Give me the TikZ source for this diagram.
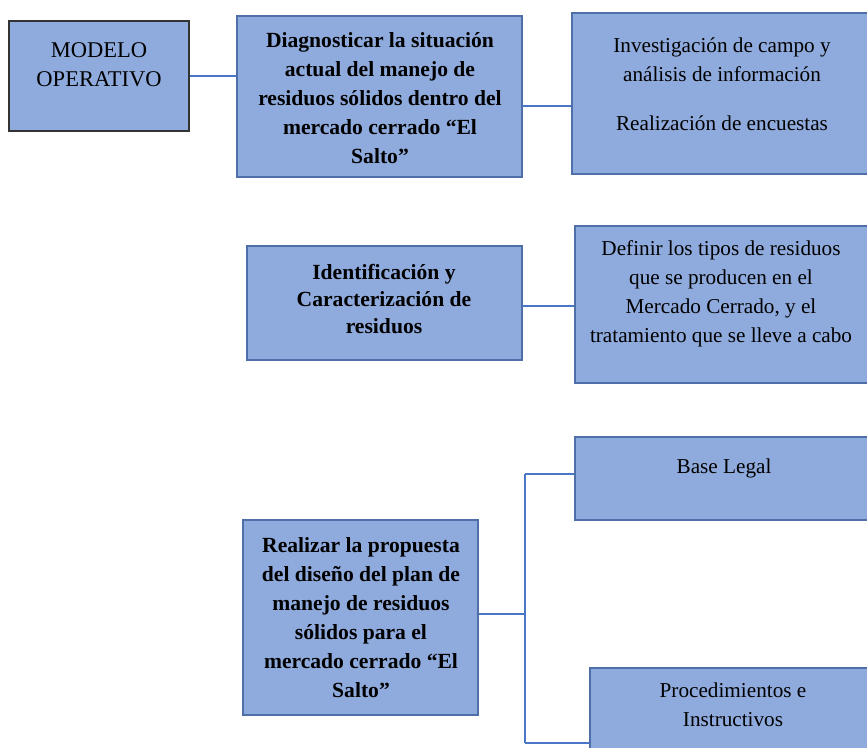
\documentclass[tikz,border=0pt]{standalone}
\usepackage{fontspec}
\setmainfont{Liberation Serif}
\definecolor{boxfill}{HTML}{8FAADC}
\definecolor{boxline}{HTML}{4F6FA8}
\definecolor{conn}{HTML}{4A76C8}
\tikzset{
  box/.style={draw=boxline, line width=1.3pt, fill=boxfill, inner sep=0pt},
  darkbox/.style={draw=black!80, line width=1.6pt, fill=boxfill, inner sep=0pt},
  txt/.style={align=center, inner sep=0pt, font=\fontsize{21.2}{29}\selectfont},
  btxt/.style={txt, font=\fontsize{21.6}{29}\selectfont\bfseries},
  link/.style={draw=conn, line width=1.3pt}
}
\begin{document}
\begin{tikzpicture}[x=1pt, y=-1pt]
\clip (0,0) rectangle (867,747);
\fill[white] (0,0) rectangle (867,747);
% boxes
\node[darkbox, minimum width=180pt, minimum height=110pt] (b1) at (99,76) {};
\node[box, minimum width=285pt, minimum height=161pt] (b2) at (379.5,96.5) {};
\node[box, minimum width=308pt, minimum height=161pt] (b3) at (726,93.5) {};
\node[box, minimum width=275pt, minimum height=114pt] (b4) at (384.5,303) {};
\node[box, minimum width=305pt, minimum height=157pt] (b5) at (727.5,304.5) {};
\node[box, minimum width=305pt, minimum height=83pt] (b6) at (727.5,478.5) {};
\node[box, minimum width=235pt, minimum height=195pt] (b7) at (360.5,617.5) {};
\node[box, minimum width=290pt, minimum height=92pt] (b8) at (735,714) {};
% texts
\node[txt, font=\fontsize{22.5}{29}\selectfont] (t1) at (99,65) {MODELO\\OPERATIVO};
\node[btxt] (t2) at (380,98) {Diagnosticar la situación\\actual del manejo de\\residuos sólidos dentro del\\mercado cerrado “El\\Salto”};
\node[txt] (t3) at (722,84) {Investigación de campo y\\análisis de información\\[20pt]Realización de encuestas};
\node[btxt, font=\fontsize{21.6}{27}\selectfont\bfseries] (t4) at (384,299) {Identificación y\\Caracterización de\\residuos};
\node[txt] (t5) at (721,294) {Definir los tipos de residuos\\que se producen en el\\Mercado Cerrado, y el\\tratamiento que se lleve a cabo};
\node[txt] (t6) at (724,468) {Base Legal};
\node[btxt] (t7) at (361,618) {Realizar la propuesta\\del diseño del plan de\\manejo de residuos\\sólidos para el\\mercado cerrado “El\\Salto”};
\node[txt] (t8) at (733,705) {Procedimientos e\\Instructivos};
% connectors
\draw[link] (b1.east) -- (b1.east -| b2.west);
\draw[link] ([yshift=-9.5pt]b2.east) -- ([yshift=-9.5pt]b2.east -| b3.west);
\draw[link] ([yshift=-3pt]b4.east) -- ([yshift=-3pt]b4.east -| b5.west);
\coordinate (j) at (525,614);
\coordinate (ja) at (525,474);
\coordinate (jb) at (525,743);
\draw[link] (b7.east |- j) -- (j);
\draw[link] (ja) -- (jb);
\draw[link] (ja) -- (ja -| b6.west);
\draw[link] (jb) -- (jb -| b8.west);
\end{tikzpicture}
\end{document}
